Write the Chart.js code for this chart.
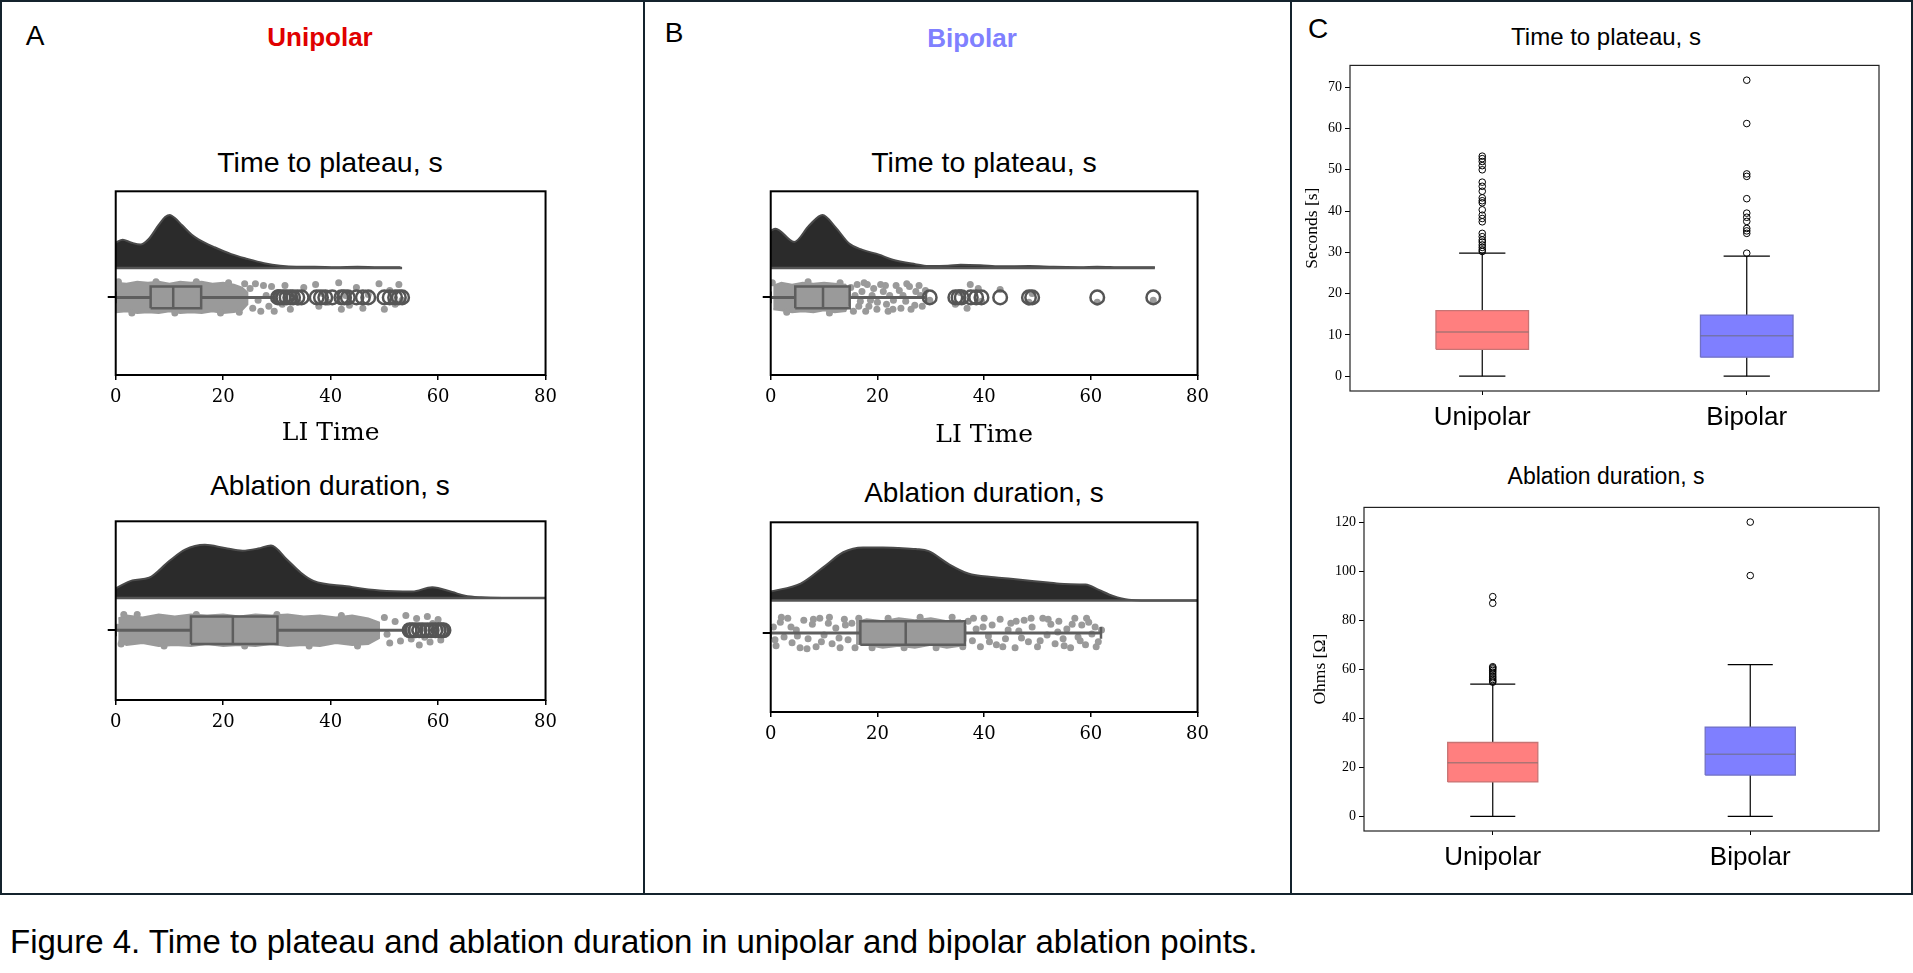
<!DOCTYPE html>
<html><head><meta charset="utf-8">
<script src="https://cdn.jsdelivr.net/npm/chart.js@4.4.1/dist/chart.umd.min.js"></script>
<style>
html,body{margin:0;padding:0;background:#fff;width:1913px;height:973px;overflow:hidden;font-family:"Liberation Sans",Arial,sans-serif;}
#fig{position:absolute;left:0;top:0;width:1913px;height:973px;}
.frame{position:absolute;left:0;top:0;width:1909px;height:891px;border:2px solid #14232d;}
.vdiv{position:absolute;top:0;width:2px;height:895px;background:#14232d;}
.lbl{position:absolute;transform:translate(-50%,-50%);white-space:nowrap;line-height:1;color:#000;}
canvas{position:absolute;}
</style></head>
<body><div id="fig">
<div class="frame"></div>
<div class="vdiv" style="left:643px"></div>
<div class="vdiv" style="left:1290px"></div>
<div class="lbl" style="left:35px;top:36px;font-size:28px">A</div>
<div class="lbl" style="left:674px;top:33px;font-size:28px">B</div>
<div class="lbl" style="left:1318px;top:29px;font-size:28px">C</div>
<div class="lbl" style="left:320px;top:37px;font-size:26px;font-weight:bold;color:#e00000">Unipolar</div>
<div class="lbl" style="left:972px;top:38px;font-size:26px;font-weight:bold;color:#8080ff">Bipolar</div>
<div class="lbl" style="left:330px;top:162px;font-size:28.5px">Time to plateau, s</div>
<div class="lbl" style="left:330px;top:486px;font-size:28px">Ablation duration, s</div>
<div class="lbl" style="left:984px;top:162px;font-size:28.5px">Time to plateau, s</div>
<div class="lbl" style="left:984px;top:493px;font-size:28px">Ablation duration, s</div>
<div class="lbl" style="left:1606px;top:37px;font-size:24px">Time to plateau, s</div>
<div class="lbl" style="left:1606px;top:476px;font-size:23px">Ablation duration, s</div>
<div class="lbl" style="left:10px;top:941px;font-size:33px;transform:translate(0,-50%)">Figure 4. Time to plateau and ablation duration in unipolar and bipolar ablation points.</div>
</div>
<script>
// ---------------- DATA ----------------
const categories = ['Unipolar', 'Bipolar'];

// Time to plateau (s): box statistics [Unipolar, Bipolar]
const timeQ1 = [6.5, 4.6];
const timeMedian = [10.7, 9.8];
const timeQ3 = [15.9, 14.8];
const timeWhiskerLow = [0, 0];
const timeWhiskerHigh = [29.8, 29.1];
const timeOutliersUnipolar = [30.2, 30.6, 31.2, 31.8, 32.5, 33, 33.8, 34.6, 37.4, 38.2, 39, 40.3, 42, 42.5, 43.2, 44.8, 46, 47, 50, 51, 52, 52.7, 53.3];
const timeOutliersBipolar = [29.8, 34.6, 35.2, 35.8, 37.5, 38.5, 39.5, 43, 48.4, 49, 61.2, 71.7];

// Ablation duration (s): box statistics [Unipolar, Bipolar]
const ablQ1 = [14.0, 16.8];
const ablMedian = [21.8, 25.3];
const ablQ3 = [30.1, 36.4];
const ablWhiskerLow = [0, 0];
const ablWhiskerHigh = [53.9, 61.9];
const ablOutliersUnipolar = [54.7, 55.2, 55.8, 56.5, 57.2, 58, 58.8, 59.5, 60.1, 60.6, 61, 86.9, 89.6];
const ablOutliersBipolar = [98.2, 120];

// Density curves (relative density, % of peak)
const uniTimeDensX = [0, 1.3, 2.8, 4.6, 6.1, 8, 9.2, 10.1, 11, 12.3, 14.1, 15.4, 18.4, 21.5, 24.5, 27.6, 30.6, 33.6, 37, 41, 45, 49, 53];
const uniTimeDens  = [48, 53, 48, 44, 54, 81, 96, 100, 94, 81, 63, 54, 39, 26, 17, 9, 4, 2, 2.2, 1.5, 2.2, 1.5, 1.5];
const biTimeDensX = [0, 0.9, 4.4, 7.2, 9.7, 12.2, 14.7, 17.2, 20.3, 22.7, 27.1, 29.5, 33.2, 35.6, 39.3, 43, 48.5, 53, 58, 61.2, 66, 72];
const biTimeDens  = [70, 74, 49, 80, 100, 76, 46, 34, 25, 16, 7, 3.5, 4, 6, 5, 3, 3.4, 2, 1.5, 2.3, 1.2, 1.2];
const uniAblDensX = [0, 3.1, 6.2, 9.9, 12.9, 16.6, 20.3, 23.6, 26.5, 28.9, 31.9, 34.4, 36.8, 43, 49.1, 55.2, 58.9, 62.6, 65, 68, 72, 80];
const uniAblDens  = [18, 33, 38, 69, 91, 100, 94, 89, 93, 99, 72, 48, 32, 22, 14, 12, 20, 11, 4, 1, 0, 0];
const biAblDensX = [0, 5.6, 9.9, 13.6, 17.3, 21, 24, 27.2, 29.6, 33.3, 37, 41.9, 45, 49, 52, 55, 59, 61.5, 63.5, 65, 67.6, 72, 80];
const biAblDens  = [17, 32, 63, 91, 100, 100, 99, 97, 93, 69, 51, 44, 41, 37, 34, 31, 30, 20, 11, 6, 1, 0, 0];

// Rain (jittered points): dense band outline [value, jitter] and loose points [value, jitter]
const uniTimeBand = [[0,15],[2,14],[4,16],[6,15],[8,16],[10,14],[12,16],[14,15],[16,16],[18,14],[20,15],[22,13],[23.5,10],[24.5,5],[24.5,-7],[23.5,-13],[22,-15],[20,-16],[18,-14],[16,-16],[14,-15],[12,-16],[10,-14],[8,-16],[6,-15],[4,-16],[2,-14],[0,-15]];
const uniTimeDots = [[0.5,16],[3,-16],[7.5,16],[11,-16],[15,16],[19.5,-16],[21,15],[23,-15],[24,14],[25,9],[25.5,-11],[26,14],[26.5,-3],[27,-14],[27.5,12],[28,2],[28.5,-9],[29,11],[29.5,-14],[30.2,5],[31,-7],[31.5,12],[32.5,-12],[33,4],[34,-5],[35,10],[37.2,13],[37.8,-9],[38.5,4],[39.5,-5],[41.5,15],[42,-12],[42.8,2],[43.5,-8],[44.8,10],[46,-11],[47,3],[49,14],[50,-12],[51,7],[52,-7],[52.7,13],[53.3,-3]];
const uniAblBand = [[0.5,12],[2,15],[5,13],[8,16],[11,14],[14,16],[17,15],[20,16],[23,14],[26,16],[29,15],[32,16],[35,14],[38,15],[41,13],[44,15],[47,12],[49,8],[49,-8],[47,-14],[44,-15],[41,-13],[38,-16],[35,-15],[32,-16],[29,-14],[26,-16],[23,-15],[20,-16],[17,-14],[14,-16],[11,-15],[8,-16],[5,-13],[2,-15],[0.5,-11]];
const uniAblDots = [[0.3,3],[1,-14],[1.5,16],[4,16],[9,-16],[15,16],[24,-16],[30,16],[36,-16],[42,15],[45,-16],[50,13],[50.5,-4],[51,-13],[52,9],[53,-11],[54,15],[54.5,0],[55,-9],[56,12],[56.5,-15],[57,4],[57.5,-7],[58,14],[58.5,-12],[59,7],[59.5,-3],[60,11],[60.5,-10],[61,2]];
const biTimeBand = [[0.5,12],[2,15],[4,13],[6,15],[8,14],[10,15],[12,14],[14,13],[14.5,8],[14.5,-8],[14,-14],[12,-15],[10,-13],[8,-15],[6,-14],[4,-15],[2,-13],[0.5,-12]];
const biTimeDots = [[0.3,15],[3,-15],[7,16],[11,-16],[13,15],[15,10],[15.5,-14],[15.8,2],[16.2,13],[16.5,-9],[16.8,-4],[17.1,6],[17.5,15],[17.8,-14],[18.1,13],[18.4,-9],[18.7,-3],[19,2],[19.3,9],[19.9,-12],[20,-5],[20.6,13],[21.1,6],[21.5,12],[21.7,-7],[22,-14],[22.3,2],[22.9,-12],[23,-3],[23.5,12],[24.1,7],[24.4,-11],[24.8,2],[25.3,-4],[25.5,14],[26,11],[26.3,-12],[27,-8],[27.2,6],[27.8,12],[28.1,2],[28.4,-9],[29,7],[29.8,-3],[34.6,-7],[35.5,5],[36.8,-11],[37.4,13],[38.9,9],[39.5,-4],[43,8],[48.4,-5],[49,4],[61.2,-5],[71.7,-3]];
const biAblBand = [[16,11],[18,14],[21,12],[24,15],[27,13],[30,15],[33,12],[35.5,13],[36.5,7],[36.5,-8],[35.5,-13],[33,-15],[30,-12],[27,-15],[24,-13],[21,-15],[18,-12],[16,-11]];
const biAblDots = [[0.5,6],[0.8,-7],[1,-13],[1.8,11],[2,16],[2.5,-4],[3.2,15],[3.8,6],[4,-10],[4.8,3],[5,-3],[5.5,-15],[6.2,13],[6.8,-16],[7,-6],[7.8,9],[8,14],[8.5,-14],[9.2,15],[9.5,-9],[10,-2],[10.8,10],[11,16],[11.5,-11],[12.2,5],[12.8,-5],[13,-15],[13.8,14],[14,8],[14.5,-7],[15.2,10],[15.8,-15],[16.5,15],[19,-15],[22,15],[25,-15],[28,16],[31,-15],[34,16],[36,-14],[37,12],[37.8,-8],[38,15],[38.5,4],[39.3,-14],[39.8,6],[40,15],[40.8,-3],[41,-9],[41.5,8],[42.3,-12],[43,14],[43.5,-14],[44,-6],[44.5,3],[45,10],[45.8,-15],[46,12],[46.5,2],[47,-5],[47.5,13],[48.3,-9],[48.8,15],[49,6],[50,-14],[50.5,-8],[51,15],[51.8,-2],[52,14],[52.5,9],[53.3,-11],[53.8,1],[54,12],[54.8,-6],[55,-13],[55.5,4],[56.2,-15],[56.5,9],[57,15],[57.6,-4],[58,-8],[58.3,8],[59,-12],[59.2,15],[59.6,11],[60.2,-1],[60.8,6],[61,-14],[61.4,-9],[62,3]];

// Tick labels
const rainTicks = [0, 20, 40, 60, 80];
const timeTicks = [0, 10, 20, 30, 40, 50, 60, 70];
const ablTicks = [0, 20, 40, 60, 80, 100, 120];

// ---------------- RENDERING ----------------
Chart.register({
  id: 'frame',
  afterDatasetsDraw(chart, args, opts) {
    const a = chart.chartArea, ctx = chart.ctx;
    ctx.save();
    ctx.strokeStyle = opts.color || '#000';
    ctx.lineWidth = opts.width || 1;
    ctx.strokeRect(a.left, a.top, a.right - a.left, a.bottom - a.top);
    ctx.restore();
  }
});

function makeCanvas(left, top, w, h) {
  const c = document.createElement('canvas');
  c.width = w; c.height = h;
  c.style.left = left + 'px'; c.style.top = top + 'px';
  c.style.width = w + 'px'; c.style.height = h + 'px';
  document.getElementById('fig').appendChild(c);
  return c;
}
const pts = arr => arr.map(p => ({x: p[0], y: p[1]}));
function seg(points, color, width, order) {
  return {type: 'line', data: points, borderColor: color, borderWidth: width, pointRadius: 0, fill: false, tension: 0, order: order};
}

function raincloud(c) {
  const yAxisW = 10, padTop = 6, padRight = 16;
  const canvas = makeCanvas(c.L - yAxisW, c.T - padTop, (c.R - c.L) + yAxisW + padRight, (c.B - c.T) + padTop + c.xAxisH);
  const i = c.idx, h = c.boxHalf, cap = 6, dark = '#5e5e5e';
  const densData = c.densX.map((x, k) => ({x: x, y: c.base + c.dens[k] / 100 * 54}));
  const datasets = [
    {type: 'scatter', data: c.outliers.map(v => ({x: v, y: 0})), pointRadius: 6.8, pointBackgroundColor: 'rgba(0,0,0,0)', pointBorderColor: '#555', pointBorderWidth: 2.5, order: 1},
    seg([{x: c.lo[i], y: -cap}, {x: c.lo[i], y: cap}], dark, 2.5, 2),
    seg([{x: c.hi[i], y: -cap}, {x: c.hi[i], y: cap}], dark, 2.5, 2),
    seg([{x: c.med[i], y: -h}, {x: c.med[i], y: h}], dark, 2.5, 3),
    seg([{x: c.q1[i], y: -h}, {x: c.q3[i], y: -h}, {x: c.q3[i], y: h}, {x: c.q1[i], y: h}, {x: c.q1[i], y: -h}], dark, 2.5, 4),
    seg([{x: c.lo[i], y: 0}, {x: c.q1[i], y: 0}], dark, 3, 5),
    seg([{x: c.q3[i], y: 0}, {x: c.hi[i], y: 0}], dark, 3, 5),
    {type: 'scatter', data: pts(c.dots), pointRadius: 3.5, pointBackgroundColor: '#9a9a9a', pointBorderWidth: 0, order: 6},
    {type: 'line', data: pts(c.band), fill: 'shape', backgroundColor: '#9a9a9a', borderColor: '#9a9a9a', borderWidth: 2, pointRadius: 0, tension: 0, order: 7},
    seg([{x: 0, y: c.base}, {x: c.baseEnd, y: c.base}], '#555', 2.5, 8),
    {type: 'line', data: densData, fill: {value: c.base}, backgroundColor: '#2b2b2b', borderColor: '#4a4a4a', borderWidth: 2, pointRadius: 0, cubicInterpolationMode: 'monotone', order: 9}
  ];
  new Chart(canvas, {
    type: 'line',
    data: {datasets: datasets},
    options: {
      responsive: false, animation: false, events: [],
      layout: {padding: {top: padTop, right: padRight, left: 0, bottom: 0}},
      plugins: {legend: {display: false}, tooltip: {enabled: false}, frame: {color: '#000', width: 2}},
      scales: {
        x: {
          type: 'linear', min: 0, max: 80,
          afterBuildTicks: s => { s.ticks = rainTicks.map(v => ({value: v})); },
          ticks: {color: '#000', font: {family: 'DejaVu Serif', size: 18}, padding: 7, maxRotation: 0, autoSkip: false},
          grid: {display: true, drawOnChartArea: false, drawTicks: true, tickLength: 5, color: '#000', lineWidth: 1.5},
          border: {display: false},
          title: {display: !!c.xTitle, text: c.xTitle || '', color: '#000', font: {family: 'DejaVu Serif', size: 25}, padding: 0},
          afterFit: s => { s.height = c.xAxisH; }
        },
        y: {
          type: 'linear', min: c.ymin, max: c.ymax,
          afterBuildTicks: s => { s.ticks = [{value: 0}]; },
          ticks: {callback: () => '', padding: 0},
          grid: {display: true, drawOnChartArea: false, drawTicks: true, tickLength: 8, color: '#000', lineWidth: 2},
          border: {display: false},
          afterFit: s => { s.width = yAxisW; }
        }
      }
    }
  });
}

function boxChart(c) {
  const padTop = 8, padRight = 12, xAxisH = 50;
  const canvas = makeCanvas(c.L - c.yAxisW, c.T - padTop, (c.R - c.L) + c.yAxisW + padRight, (c.B - c.T) + padTop + xAxisH);
  const fills = ['#ff7f7f', '#7f7fff'];
  const edges = ['#c77474', '#7070c4'];
  const w = 0.175, cw = 0.0875;
  const datasets = [];
  categories.forEach((name, i) => {
    const p = i + 1;
    datasets.push(
      {type: 'scatter', data: c.outs[i].map(v => ({x: p, y: v})), pointRadius: 3.3, pointBackgroundColor: 'rgba(0,0,0,0)', pointBorderColor: '#000', pointBorderWidth: 1, order: 1},
      seg([{x: p - w, y: c.med[i]}, {x: p + w, y: c.med[i]}], 'rgba(105,105,105,0.55)', 1.5, 2),
      {type: 'line', data: [{x: p - w, y: c.q1[i]}, {x: p + w, y: c.q1[i]}, {x: p + w, y: c.q3[i]}, {x: p - w, y: c.q3[i]}, {x: p - w, y: c.q1[i]}], fill: 'shape', backgroundColor: fills[i], borderColor: edges[i], borderWidth: 1.3, pointRadius: 0, tension: 0, order: 3},
      seg([{x: p, y: c.q1[i]}, {x: p, y: c.lo[i]}], '#000', 1.2, 4),
      seg([{x: p, y: c.q3[i]}, {x: p, y: c.hi[i]}], '#000', 1.2, 4),
      seg([{x: p - cw, y: c.lo[i]}, {x: p + cw, y: c.lo[i]}], '#000', 1.2, 4),
      seg([{x: p - cw, y: c.hi[i]}, {x: p + cw, y: c.hi[i]}], '#000', 1.2, 4)
    );
  });
  new Chart(canvas, {
    type: 'line',
    data: {datasets: datasets},
    options: {
      responsive: false, animation: false, events: [],
      layout: {padding: {top: padTop, right: padRight, left: 0, bottom: 0}},
      plugins: {legend: {display: false}, tooltip: {enabled: false}, frame: {color: '#222', width: 1.2}},
      scales: {
        x: {
          type: 'linear', min: 0.5, max: 2.5,
          afterBuildTicks: s => { s.ticks = categories.map((n, i) => ({value: i + 1})); },
          ticks: {callback: v => categories[Math.round(v) - 1], color: '#000', font: {family: 'Liberation Sans', size: 26}, padding: 7, autoSkip: false, maxRotation: 0},
          grid: {display: true, drawOnChartArea: false, tickLength: 4, color: '#000', lineWidth: 1},
          border: {display: false},
          afterFit: s => { s.height = xAxisH; }
        },
        y: {
          type: 'linear', min: c.ymin, max: c.ymax,
          afterBuildTicks: s => { s.ticks = c.yticks.map(v => ({value: v})); },
          ticks: {color: '#000', font: {family: 'Liberation Serif', size: 14}, padding: 3},
          grid: {display: true, drawOnChartArea: false, tickLength: 5, color: '#000', lineWidth: 1},
          border: {display: false},
          title: {display: true, text: c.yTitle, color: '#000', font: {family: 'Liberation Serif', size: 17.5}, padding: 0},
          afterFit: s => { s.width = c.yAxisW; }
        }
      }
    }
  });
}

// Panel A (Unipolar)
raincloud({L: 113, T: 188, R: 548, B: 375, ymin: -79, ymax: 108, base: 30, boxHalf: 11, xAxisH: 73, xTitle: 'LI Time',
  idx: 0, q1: timeQ1, med: timeMedian, q3: timeQ3, lo: timeWhiskerLow, hi: timeWhiskerHigh, outliers: timeOutliersUnipolar,
  densX: uniTimeDensX, dens: uniTimeDens, baseEnd: 53.3, band: uniTimeBand, dots: uniTimeDots});
raincloud({L: 113, T: 518, R: 548, B: 700, ymin: -71, ymax: 111, base: 33, boxHalf: 14, xAxisH: 45, xTitle: null,
  idx: 0, q1: ablQ1, med: ablMedian, q3: ablQ3, lo: ablWhiskerLow, hi: ablWhiskerHigh, outliers: ablOutliersUnipolar,
  densX: uniAblDensX, dens: uniAblDens, baseEnd: 80, band: uniAblBand, dots: uniAblDots});
// Panel B (Bipolar)
raincloud({L: 768, T: 188, R: 1200, B: 375, ymin: -79, ymax: 108, base: 30, boxHalf: 11, xAxisH: 75, xTitle: 'LI Time',
  idx: 1, q1: timeQ1, med: timeMedian, q3: timeQ3, lo: timeWhiskerLow, hi: timeWhiskerHigh, outliers: timeOutliersBipolar,
  densX: biTimeDensX, dens: biTimeDens, baseEnd: 72, band: biTimeBand, dots: biTimeDots});
raincloud({L: 768, T: 519, R: 1200, B: 712, ymin: -80.4, ymax: 112.6, base: 33, boxHalf: 12, xAxisH: 45, xTitle: null,
  idx: 1, q1: ablQ1, med: ablMedian, q3: ablQ3, lo: ablWhiskerLow, hi: ablWhiskerHigh, outliers: ablOutliersBipolar,
  densX: biAblDensX, dens: biAblDens, baseEnd: 80, band: biAblBand, dots: biAblDots});
// Panel C (box plots)
boxChart({L: 1350, T: 62, R: 1879, B: 391, yAxisW: 48, ymin: -3.585, ymax: 75.285, yticks: timeTicks, yTitle: 'Seconds [s]',
  q1: timeQ1, med: timeMedian, q3: timeQ3, lo: timeWhiskerLow, hi: timeWhiskerHigh, outs: [timeOutliersUnipolar, timeOutliersBipolar]});
boxChart({L: 1364, T: 504, R: 1879, B: 831, yAxisW: 54, ymin: -6, ymax: 126, yticks: ablTicks, yTitle: 'Ohms [Ω]',
  q1: ablQ1, med: ablMedian, q3: ablQ3, lo: ablWhiskerLow, hi: ablWhiskerHigh, outs: [ablOutliersUnipolar, ablOutliersBipolar]});
</script>
</body></html>
